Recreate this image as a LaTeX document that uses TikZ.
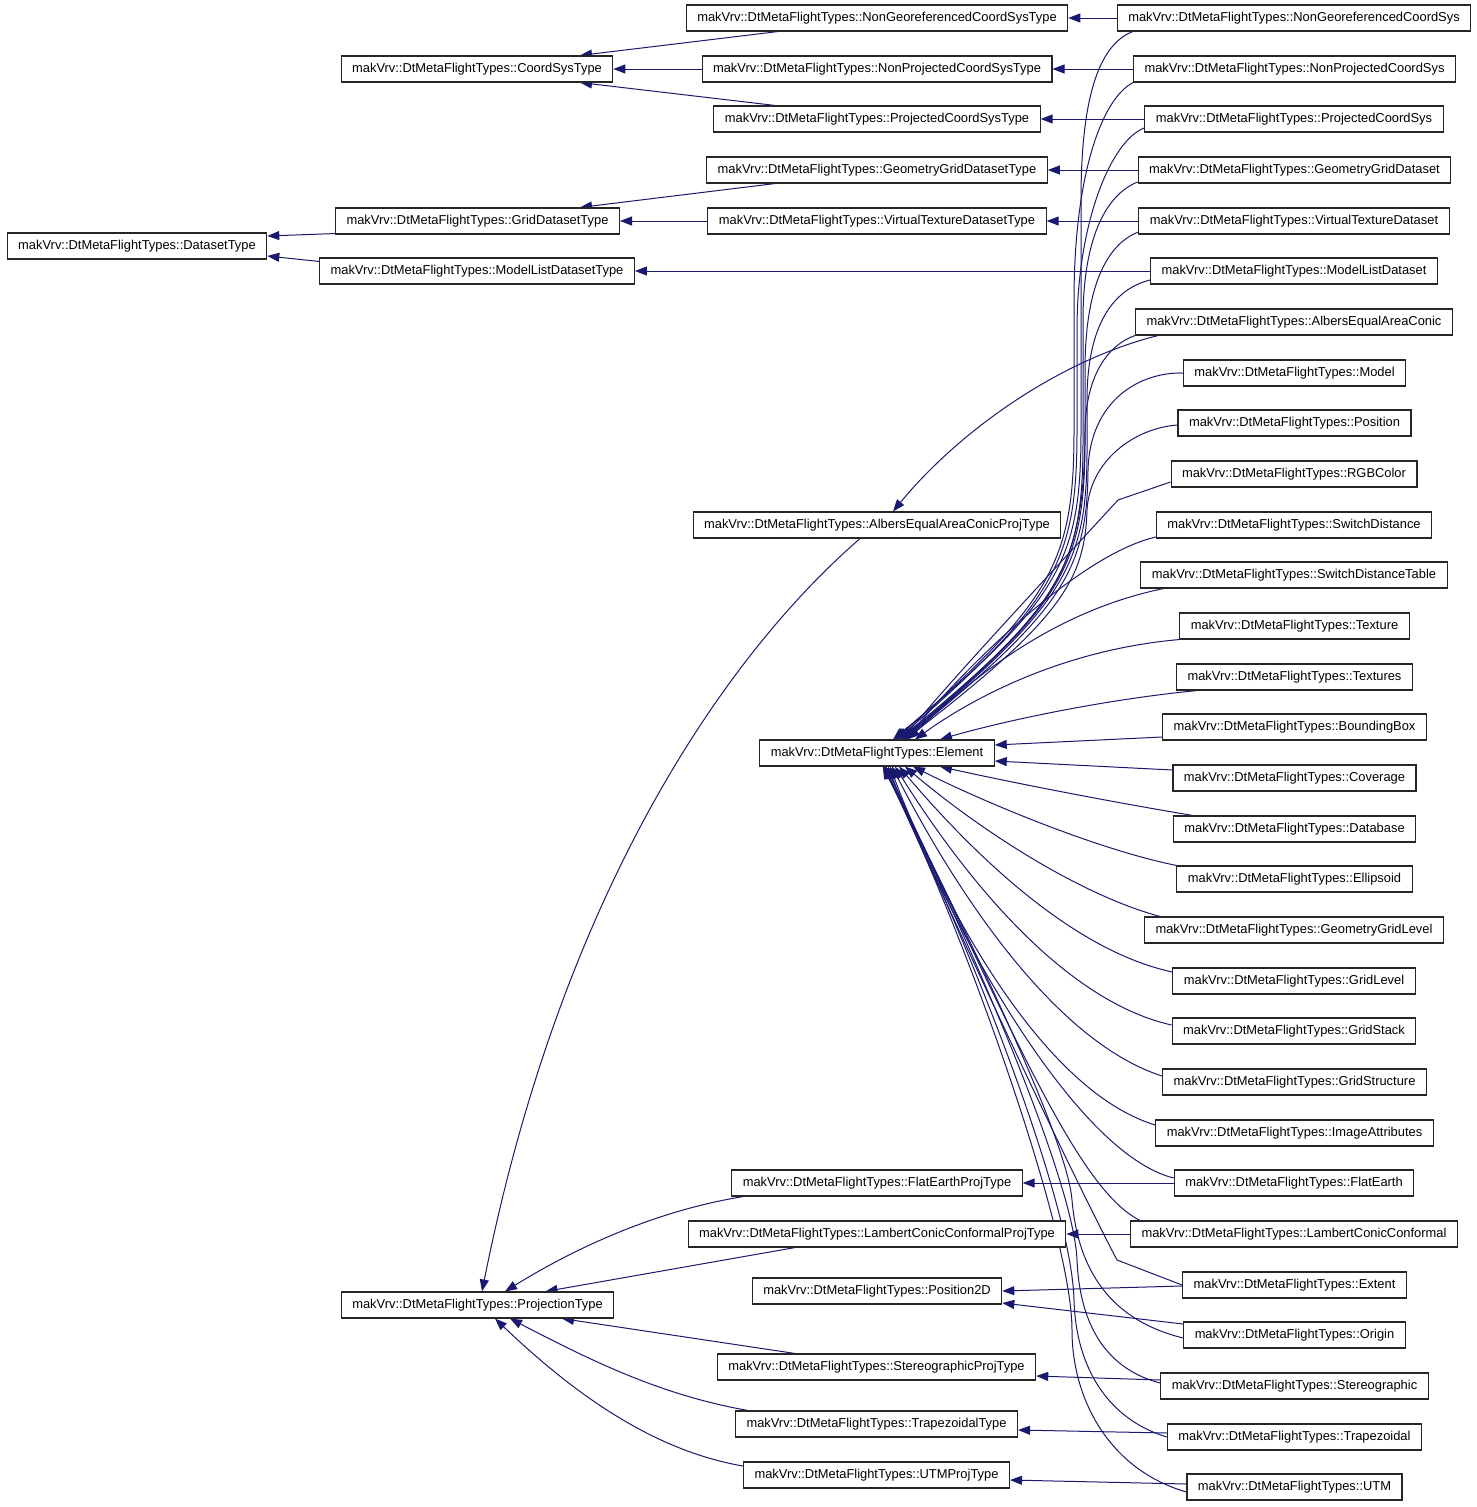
\documentclass[tikz,border=0pt]{standalone}
\usepackage{fontspec}
\setmainfont{Liberation Sans}
\usetikzlibrary{arrows.meta,calc,backgrounds}
\definecolor{navy}{HTML}{191970}
\newcommand\clsfont{\fontsize{12.9}{14}\selectfont}
\begin{document}
\begin{tikzpicture}[x=1pt,y=-1pt,
 cls/.style={draw=black!85,line width=1.1pt,fill=white,font=\clsfont,inner xsep=11pt,inner ysep=0pt,minimum height=26pt,text height=9.3pt,text depth=2.6pt},
 inh/.style={draw=navy,line width=1pt,-{Triangle[length=12pt,width=9pt]}}]
\useasboundingbox (0,0) rectangle (1477,1507);
% left column
\node[cls] (ds)  at (137,246)  {makVrv::DtMetaFlightTypes::DatasetType};
\node[cls] (cs)  at (477,69)   {makVrv::DtMetaFlightTypes::CoordSysType};
\node[cls] (gd)  at (477.5,221) {makVrv::DtMetaFlightTypes::GridDatasetType};
\node[cls] (mld) at (477,271)  {makVrv::DtMetaFlightTypes::ModelListDatasetType};
\node[cls] (pt)  at (477.5,1305) {makVrv::DtMetaFlightTypes::ProjectionType};
% middle column
\node[cls] (ngt)   at (877,18)   {makVrv::DtMetaFlightTypes::NonGeoreferencedCoordSysType};
\node[cls] (npt)   at (877,69)   {makVrv::DtMetaFlightTypes::NonProjectedCoordSysType};
\node[cls] (pct)   at (877,119)  {makVrv::DtMetaFlightTypes::ProjectedCoordSysType};
\node[cls] (ggdt)  at (877,170)  {makVrv::DtMetaFlightTypes::GeometryGridDatasetType};
\node[cls] (vtdt)  at (877,221)  {makVrv::DtMetaFlightTypes::VirtualTextureDatasetType};
\node[cls] (aeact) at (877,525)  {makVrv::DtMetaFlightTypes::AlbersEqualAreaConicProjType};
\node[cls] (el)    at (877,753)  {makVrv::DtMetaFlightTypes::Element};
\node[cls] (fet)   at (877,1183) {makVrv::DtMetaFlightTypes::FlatEarthProjType};
\node[cls] (lcct)  at (877,1234) {makVrv::DtMetaFlightTypes::LambertConicConformalProjType};
\node[cls] (p2d)   at (877,1291) {makVrv::DtMetaFlightTypes::Position2D};
\node[cls] (sgt)   at (876.5,1367) {makVrv::DtMetaFlightTypes::StereographicProjType};
\node[cls] (tzt)   at (876.5,1424) {makVrv::DtMetaFlightTypes::TrapezoidalType};
\node[cls] (utmt)  at (876.5,1475) {makVrv::DtMetaFlightTypes::UTMProjType};
% right column
\node[cls] (ngc)   at (1294,18)   {makVrv::DtMetaFlightTypes::NonGeoreferencedCoordSys};
\node[cls] (npc)   at (1294.5,69) {makVrv::DtMetaFlightTypes::NonProjectedCoordSys};
\node[cls] (pc)    at (1294,119)  {makVrv::DtMetaFlightTypes::ProjectedCoordSys};
\node[cls] (ggd)   at (1294.5,170) {makVrv::DtMetaFlightTypes::GeometryGridDataset};
\node[cls] (vtd)   at (1294,221)  {makVrv::DtMetaFlightTypes::VirtualTextureDataset};
\node[cls] (mlds)  at (1294,271)  {makVrv::DtMetaFlightTypes::ModelListDataset};
\node[cls] (aeac)  at (1294,322)  {makVrv::DtMetaFlightTypes::AlbersEqualAreaConic};
\node[cls] (model) at (1294.5,373) {makVrv::DtMetaFlightTypes::Model};
\node[cls] (pos)   at (1294.5,423) {makVrv::DtMetaFlightTypes::Position};
\node[cls] (rgb)   at (1294,474)  {makVrv::DtMetaFlightTypes::RGBColor};
\node[cls] (sd)    at (1294,525)  {makVrv::DtMetaFlightTypes::SwitchDistance};
\node[cls] (sdt)   at (1294,575)  {makVrv::DtMetaFlightTypes::SwitchDistanceTable};
\node[cls] (tex)   at (1294.5,626) {makVrv::DtMetaFlightTypes::Texture};
\node[cls] (texs)  at (1294.5,677) {makVrv::DtMetaFlightTypes::Textures};
\node[cls] (bb)    at (1294.5,727) {makVrv::DtMetaFlightTypes::BoundingBox};
\node[cls] (cov)   at (1294.5,778) {makVrv::DtMetaFlightTypes::Coverage};
\node[cls] (db)    at (1294.5,829) {makVrv::DtMetaFlightTypes::Database};
\node[cls] (ell)   at (1294.5,879) {makVrv::DtMetaFlightTypes::Ellipsoid};
\node[cls] (ggl)   at (1294,930)  {makVrv::DtMetaFlightTypes::GeometryGridLevel};
\node[cls] (gl)    at (1294,981)  {makVrv::DtMetaFlightTypes::GridLevel};
\node[cls] (gs)    at (1294,1031) {makVrv::DtMetaFlightTypes::GridStack};
\node[cls] (gst)   at (1294.5,1082) {makVrv::DtMetaFlightTypes::GridStructure};
\node[cls] (ia)    at (1294.5,1133) {makVrv::DtMetaFlightTypes::ImageAttributes};
\node[cls] (fe)    at (1294,1183) {makVrv::DtMetaFlightTypes::FlatEarth};
\node[cls] (lcc)   at (1294,1234) {makVrv::DtMetaFlightTypes::LambertConicConformal};
\node[cls] (ext)   at (1294.5,1285) {makVrv::DtMetaFlightTypes::Extent};
\node[cls] (ori)   at (1294.5,1335) {makVrv::DtMetaFlightTypes::Origin};
\node[cls] (stg)   at (1294.5,1386) {makVrv::DtMetaFlightTypes::Stereographic};
\node[cls] (trp)   at (1294.5,1437) {makVrv::DtMetaFlightTypes::Trapezoidal};
\node[cls] (utm)   at (1294.5,1487) {makVrv::DtMetaFlightTypes::UTM};

\begin{scope}[on background layer]
\fill[white] (0,0) rectangle (1477,1507);
% left part
\draw[inh] ($(gd.south west)+(0,-1)$) -- ($(ds.east)+(0,-10)$);
\draw[inh] ($(mld.north west)+(0,4)$) -- ($(ds.east)+(0,10)$);
\draw[inh] ($(ngt.south)+(-99,0)$) -- ($(cs.north)+(103,0)$);
\draw[inh] (npt.west) -- (cs.east);
\draw[inh] ($(pct.north)+(-102,0)$) -- ($(cs.south)+(103,0)$);
\draw[inh] ($(ggdt.south)+(-102,0)$) -- ($(gd.north)+(102.5,0)$);
\draw[inh] (vtdt.west) -- (gd.east);
\draw[inh] (mlds.west) -- (mld.east);
\draw[inh] (ngc.west) -- (ngt.east);
\draw[inh] (npc.west) -- (npt.east);
\draw[inh] (pc.west) -- (pct.east);
\draw[inh] (ggd.west) -- (ggdt.east);
\draw[inh] (vtd.west) -- (vtdt.east);
\draw[inh] ($(aeac.south west)+(23,0)$) .. controls (1060,360) and (960,430) .. ($(aeact.north)+(16,0)$);
\draw[inh] ($(aeact.south)+(-17,0)$) .. controls (720,660) and (560,900) .. ($(pt.north)+(4.5,0)$);
\draw[inh] ($(fet.south west)+(12,0)$) .. controls (660,1210) and (580,1245) .. ($(pt.north)+(27.5,0)$);
\draw[inh] ($(lcct.south)+(-82,0)$) -- ($(pt.north)+(68,0)$);
\draw[inh] ($(sgt.north)+(-81.5,0)$) -- ($(pt.south)+(84.5,0)$);
\draw[inh] ($(tzt.north west)+(13,0)$) .. controls (660,1395) and (590,1360) .. ($(pt.south)+(32.5,0)$);
\draw[inh] ($(utmt.west)+(0,-9)$) .. controls (650,1450) and (570,1390) .. ($(pt.south)+(17.5,0)$);
\draw[inh] (fe.west) -- (fet.east);
\draw[inh] (lcc.west) -- (lcct.east);
\draw[inh] ($(ext.west)+(0,1)$) -- (p2d.east);
\draw[inh] ($(ori.west)+(0,-11)$) -- ($(p2d.east)+(0,12)$);
\draw[inh] ($(stg.west)+(0,-6)$) -- ($(sgt.east)+(0,9)$);
\draw[inh] ($(trp.west)+(0,-4)$) -- ($(tzt.east)+(0,6)$);
\draw[inh] ($(utm.west)+(0,-3)$) -- ($(utmt.east)+(0,5)$);
% to Element, from above
\draw[inh] ($(ngc.south west)+(16,0)$) .. controls (1098,45) and (1081,100) .. (1081,200) -- (1081,430) .. controls (1081,560) and (1061,600) .. ($(el.north)+(16,0)$);
\draw[inh] (npc.south west) .. controls (1100,100) and (1074,180) .. (1074,300) -- (1074,430) .. controls (1074,560) and (1054,600) .. ($(el.north)+(18,0)$);
\draw[inh] ($(pc.west)+(0,9)$) .. controls (1112,140) and (1077,220) .. (1077,330) -- (1077,430) .. controls (1077,560) and (1057,600) .. ($(el.north)+(20,0)$);
\draw[inh] ($(ggd.west)+(0,12)$) .. controls (1105,195) and (1083,240) .. (1083,320) -- (1083,440) .. controls (1083,565) and (1063,605) .. ($(el.north)+(22,0)$);
\draw[inh] ($(vtd.west)+(0,11)$) .. controls (1105,245) and (1085,290) .. (1085,370) -- (1085,440) .. controls (1085,565) and (1063,605) .. ($(el.north)+(24,0)$);
\draw[inh] ($(mlds.west)+(0,9)$) .. controls (1110,290) and (1087,330) .. (1087,400) -- (1087,450) .. controls (1087,565) and (1064,605) .. ($(el.north)+(26,0)$);
\draw[inh] (aeac.south west) .. controls (1108,345) and (1086,375) .. (1085,430) .. controls (1084,565) and (1062,605) .. ($(el.north)+(25,0)$);
\draw[inh] (model.west) .. controls (1140,372) and (1090,400) .. (1088,470) .. controls (1087,570) and (1063,610) .. ($(el.north)+(27,0)$);
\draw[inh] ($(pos.west)+(0,2)$) .. controls (1135,428) and (1090,460) .. (1087,510) .. controls (1085,580) and (1060,620) .. ($(el.north)+(28,0)$);
\draw[inh] ($(rgb.west)+(0,8)$) -- (1118,500) .. controls (1040,585) and (960,670) .. ($(el.north)+(25,0)$);
\draw[inh] ($(sd.west)+(0,12)$) .. controls (1090,552) and (990,640) .. ($(el.north)+(28,0)$);
\draw[inh] ($(sdt.south west)+(23,0)$) .. controls (1060,610) and (980,670) .. ($(el.north)+(31,0)$);
\draw[inh] (tex.south west) .. controls (1060,650) and (970,700) .. ($(el.north)+(38,0)$);
\draw[inh] ($(texs.south west)+(21,0)$) .. controls (1100,700) and (1000,722) .. ($(el.north)+(63,0)$);
\draw[inh] ($(bb.west)+(0,10)$) -- ($(el.east)+(0,-8)$);
\draw[inh] ($(cov.west)+(0,-8)$) -- ($(el.east)+(0,8)$);
% to Element, from below
\draw[inh] ($(db.north west)+(20,0)$) .. controls (1100,800) and (1000,780) .. ($(el.south)+(63,0)$);
\draw[inh] (ell.north west) .. controls (1100,850) and (990,805) .. ($(el.south)+(36,0)$);
\draw[inh] ($(ggl.north west)+(16,0)$) .. controls (1080,895) and (980,830) .. ($(el.south)+(28,0)$);
\draw[inh] ($(gl.west)+(0,-9)$) .. controls (1070,950) and (970,850) .. ($(el.south)+(22,0)$);
\draw[inh] ($(gs.west)+(0,-6)$) .. controls (1060,1000) and (960,870) .. ($(el.south)+(18,0)$);
\draw[inh] ($(gst.west)+(0,-6)$) .. controls (1050,1040) and (950,880) .. ($(el.south)+(15,0)$);
\draw[inh] ($(ia.west)+(0,-8)$) .. controls (1040,1090) and (940,900) .. ($(el.south)+(13,0)$);
\draw[inh] ($(fe.west)+(0,-5)$) .. controls (1080,1155) and (960,950) .. ($(el.south)+(11,0)$);
\draw[inh] ($(lcc.north west)+(10,0)$) .. controls (1080,1190) and (1020,1050) .. ($(el.south)+(9,0)$);
\draw[inh] (ext.west) -- (1117,1260) .. controls (1075,1180) and (980,980) .. ($(el.south)+(8,0)$);
\draw[inh] ($(ori.west)+(0,3)$) .. controls (1110,1320) and (1078,1270) .. (1072,1200) .. controls (1066,1130) and (950,900) .. ($(el.south)+(7,0)$);
\draw[inh] ($(stg.west)+(0,-3)$) .. controls (1110,1370) and (1080,1330) .. (1077,1260) .. controls (1073,1170) and (950,900) .. ($(el.south)+(7,0)$);
\draw[inh] (trp.west) .. controls (1110,1420) and (1076,1370) .. (1074,1300) .. controls (1071,1190) and (950,900) .. ($(el.south)+(6,0)$);
\draw[inh] ($(utm.west)+(0,5)$) .. controls (1110,1470) and (1072,1400) .. (1072,1330) .. controls (1072,1230) and (960,920) .. ($(el.south)+(6,0)$);
\end{scope}
\end{tikzpicture}
\end{document}
